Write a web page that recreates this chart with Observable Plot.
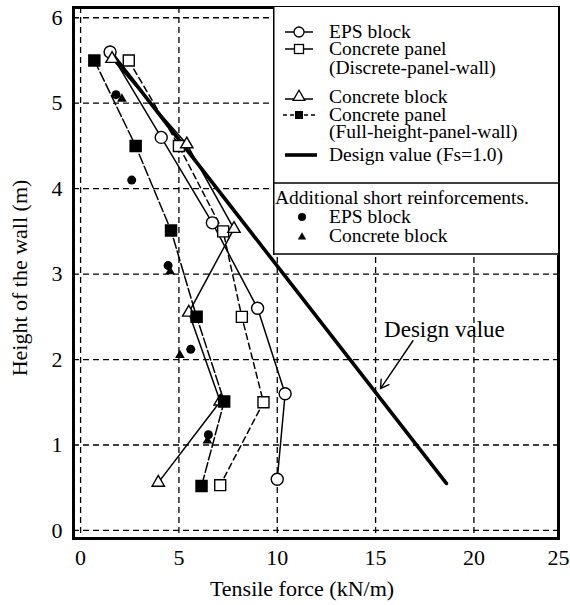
<!DOCTYPE html>
<html>
<head>
<meta charset="utf-8">
<script src="https://cdn.jsdelivr.net/npm/d3@7"></script>
<script src="https://cdn.jsdelivr.net/npm/@observablehq/plot@0.6"></script>
<style>
  html, body { margin: 0; padding: 0; background: white; }
  #wrap { position: relative; width: 570px; height: 605px; color: black; }
  #wrap svg { display: block; }
  .abs { position: absolute; }
  #wrap text { font-family: "Liberation Serif", "Times New Roman", serif !important; }
</style>
</head>
<body>
<div id="wrap"></div>
<script>
// ---------- data ----------
const epsX      = [1.5, 4.1, 6.7, 9.0, 10.4, 10.0];
const epsY      = [5.6, 4.6, 3.6, 2.6, 1.6, 0.6];
const discreteX = [2.45, 5.0, 7.25, 8.2, 9.3, 7.1];
const discreteY = [5.5, 4.5, 3.5, 2.5, 1.5, 0.53];
const blockX    = [1.6, 5.4, 7.8, 5.5, 7.1, 3.95];
const blockY    = [5.52, 4.52, 3.53, 2.55, 1.51, 0.56];
const fullX     = [0.7, 2.8, 4.6, 5.9, 7.3, 6.15];
const fullY     = [5.5, 4.5, 3.51, 2.5, 1.51, 0.52];
const designX   = [1.6, 18.6];
const designY   = [5.58, 0.55];
const shortEpsX   = [1.8, 2.6, 4.45, 5.6, 6.5];
const shortEpsY   = [5.1, 4.1, 3.1, 2.12, 1.12];
const shortBlockX = [2.1, 4.55, 5.05, 6.45];
const shortBlockY = [5.05, 3.03, 2.05, 1.05];

const xTicks = [0, 5, 10, 15, 20, 25];
const yTicks = [0, 1, 2, 3, 4, 5, 6];
const xGrid  = [0, 5, 10, 15, 20];
const xDomain = [-0.36, 24.3];
const yDomain = [-0.094, 6.12];

const xTitle = "Tensile force (kN/m)";
const yTitle = "Height of the wall (m)";
const annotText = "Design value";
const annotPos = [{x: 18.5, y: 2.35}];
const annotArrow = [{x1: 16.9, y1: 2.22, x2: 15.25, y2: 1.66}];

const legendLabels = ["EPS block", "Concrete panel", "(Discrete-panel-wall)", "Concrete block",
                      "Concrete panel", "(Full-height-panel-wall)", "Design value (Fs=1.0)"];
const shortLabels = ["Additional short reinforcements.", "EPS block", "Concrete block"];

// ---------- build tables ----------
const FONT = "Liberation Serif";
const zip = (xs, ys) => xs.map((x, i) => ({x, y: ys[i]}));
const eps = zip(epsX, epsY), discrete = zip(discreteX, discreteY), block = zip(blockX, blockY);
const full = zip(fullX, fullY), design = zip(designX, designY);
const shortEps = zip(shortEpsX, shortEpsY), shortBlock = zip(shortBlockX, shortBlockY);

const xTickPos = xTicks.map(v => Math.min(v, xDomain[1]));
const grid = {stroke: "black", strokeWidth: 1.3, strokeDasharray: "6,4", strokeOpacity: 1};
const ln = {x: "x", y: "y", stroke: "black", strokeWidth: 1.5, curve: "linear"};
const open = {x: "x", y: "y", fill: "white", stroke: "black", strokeWidth: 1.4};

const chart = Plot.plot({
  width: 570, height: 605,
  marginLeft: 73, marginRight: 12, marginTop: 7, marginBottom: 67,
  x: {domain: xDomain, label: xTitle, labelAnchor: "center", labelOffset: 56},
  y: {domain: yDomain, label: yTitle},
  style: {fontFamily: FONT, fontSize: "22px", background: "white", color: "black", overflow: "visible"},
  marks: [
    Plot.ruleX(xGrid, grid),
    Plot.ruleY(yTicks, grid),
    Plot.line(design, {x: "x", y: "y", stroke: "black", strokeWidth: 3.6}),
    Plot.line(eps, ln),
    Plot.line(discrete, {...ln, strokeDasharray: "6,4"}),
    Plot.line(block, ln),
    Plot.line(full, {...ln, strokeDasharray: "10,3"}),
    Plot.dot(eps, {...open, symbol: "circle", r: 6}),
    Plot.dot(discrete, {...open, symbol: "square", r: 6.2}),
    Plot.dot(block, {...open, symbol: "triangle", r: 4.6}),
    Plot.dot(full, {x: "x", y: "y", symbol: "square", r: 6.2, fill: "black", stroke: "black"}),
    Plot.dot(shortEps, {x: "x", y: "y", symbol: "circle", r: 4.5, fill: "black"}),
    Plot.dot(shortBlock, {x: "x", y: "y", symbol: "triangle", r: 3.6, fill: "black"}),
    Plot.arrow(annotArrow, {x1: "x1", y1: "y1", x2: "x2", y2: "y2", stroke: "black", strokeWidth: 1.4, headLength: 10, bend: 0}),
    Plot.text(annotPos, {x: "x", y: "y", text: () => annotText, fontSize: 23, fontFamily: FONT, fill: "black", textAnchor: "middle"}),
    Plot.axisX({ticks: xTickPos, tickFormat: (d, i) => String(xTicks[i]), tickSize: 0, tickPadding: 11, label: null, fontSize: 22, fontFamily: FONT}),
    Plot.axisY({ticks: yTicks, tickFormat: d => String(d), tickSize: 0, tickPadding: 11, label: null, fontSize: 22, fontFamily: FONT}),
    Plot.frame({stroke: "black", strokeWidth: 3})
  ]
});

const wrap = document.getElementById("wrap");
wrap.appendChild(chart);
d3.select(chart).selectAll("text").attr("font-family", FONT).style("font-family", FONT);

// ---------- axis titles (SVG text on top of the chart) ----------
const titles = d3.create("svg").attr("width", 570).attr("height", 605)
  .attr("class", "abs").style("left", "0px").style("top", "0px").style("pointer-events", "none")
  .attr("font-family", FONT).style("font-family", FONT);
titles.append("text").attr("x", 302).attr("y", 596).attr("text-anchor", "middle")
  .attr("font-size", 22).text(xTitle);
titles.append("text").attr("transform", "translate(27,278) rotate(-90)").attr("text-anchor", "middle")
  .attr("font-size", 22).text(yTitle);
wrap.appendChild(titles.node());

// ---------- legend (inside plot area, top right) ----------
const L = {left: 273, top: 7, width: 285, height: 248};
const leg = d3.create("svg").attr("width", L.width).attr("height", L.height)
  .attr("class", "abs").style("left", L.left + "px").style("top", L.top + "px")
  .attr("font-family", FONT).style("font-family", FONT).style("font-size", "19.5px");
leg.append("rect").attr("x", 0).attr("y", 0).attr("width", L.width).attr("height", L.height).attr("fill", "white");
leg.append("line").attr("x1", 0.75).attr("x2", 0.75).attr("y1", 0).attr("y2", L.height).attr("stroke", "black").attr("stroke-width", 1.5);
leg.append("line").attr("x1", 0).attr("x2", L.width).attr("y1", L.height - 1).attr("y2", L.height - 1).attr("stroke", "black").attr("stroke-width", 1.5);
leg.append("line").attr("x1", 0).attr("x2", L.width).attr("y1", 176).attr("y2", 176).attr("stroke", "black").attr("stroke-width", 1.5);

const baselines = [31, 48, 67, 96, 114, 131, 154];
const tx = 56, sx1 = 12, sx2 = 40, sc = 26;
legendLabels.forEach((t, i) => {
  leg.append("text").attr("x", tx).attr("y", baselines[i]).text(t);
});
const sym = (i) => baselines[i] - 6;
// EPS
leg.append("line").attr("x1", sx1).attr("x2", sx2).attr("y1", sym(0)).attr("y2", sym(0)).attr("stroke", "black").attr("stroke-width", 1.5);
leg.append("circle").attr("cx", sc).attr("cy", sym(0)).attr("r", 5).attr("fill", "white").attr("stroke", "black").attr("stroke-width", 1.3);
// Discrete panel
leg.append("line").attr("x1", sx1).attr("x2", sx2).attr("y1", sym(1)).attr("y2", sym(1)).attr("stroke", "black").attr("stroke-width", 1.5);
leg.append("rect").attr("x", sc - 4.5).attr("y", sym(1) - 4.5).attr("width", 9).attr("height", 9).attr("fill", "white").attr("stroke", "black").attr("stroke-width", 1.3);
// Concrete block
leg.append("line").attr("x1", sx1).attr("x2", sx2).attr("y1", sym(3) + 2).attr("y2", sym(3) + 2).attr("stroke", "black").attr("stroke-width", 1.5);
leg.append("path").attr("d", d3.symbol(d3.symbolTriangle, 60)()).attr("transform", `translate(${sc},${sym(3)})`).attr("fill", "white").attr("stroke", "black").attr("stroke-width", 1.3);
// Full-height panel
leg.append("line").attr("x1", sx1 - 2).attr("x2", sx2 + 2).attr("y1", sym(4)).attr("y2", sym(4)).attr("stroke", "black").attr("stroke-width", 1.5).attr("stroke-dasharray", "4,3");
leg.append("rect").attr("x", sc - 4).attr("y", sym(4) - 4).attr("width", 8).attr("height", 8).attr("fill", "black");
// Design value
leg.append("line").attr("x1", sx1).attr("x2", sx2 + 4).attr("y1", sym(6)).attr("y2", sym(6)).attr("stroke", "black").attr("stroke-width", 3.6);

const sBase = [197, 216, 235];
leg.append("text").attr("x", 2).attr("y", sBase[0]).text(shortLabels[0]);
leg.append("text").attr("x", tx).attr("y", sBase[1]).text(shortLabels[1]);
leg.append("text").attr("x", tx).attr("y", sBase[2]).text(shortLabels[2]);
leg.append("circle").attr("cx", 29).attr("cy", sBase[1] - 6).attr("r", 4).attr("fill", "black");
leg.append("path").attr("d", d3.symbol(d3.symbolTriangle, 30)()).attr("transform", `translate(29,${sBase[2] - 5})`).attr("fill", "black");

wrap.appendChild(leg.node());
</script>
</body>
</html>
